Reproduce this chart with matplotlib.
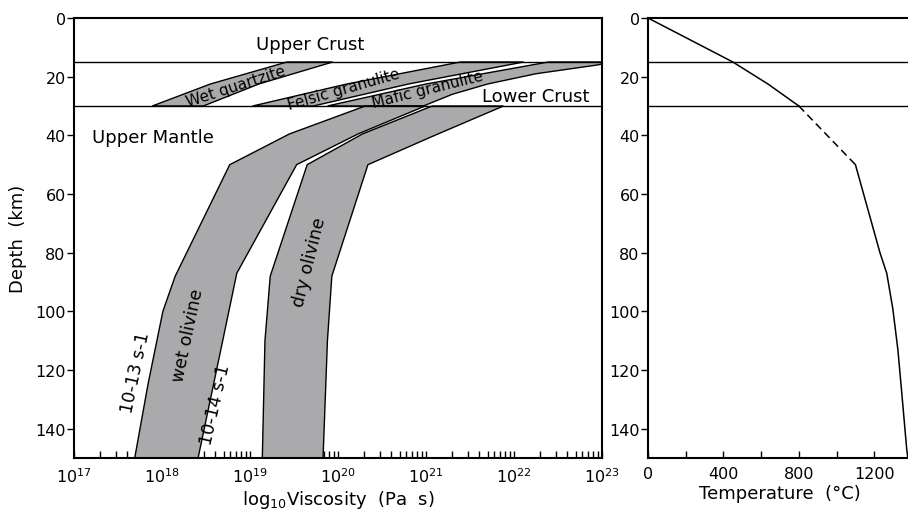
import matplotlib
matplotlib.use("Agg")
import matplotlib.pyplot as plt
from matplotlib.ticker import MultipleLocator

# layer boundaries (km)
boundary_depths = [15, 30]

# crustal flow laws: depth (km) vs log10 viscosity (Pa s), left/right edge of band
wq_depth = [30, 22.5, 15]
wq_left = [17.89, 18.55, 19.42]
wq_right = [18.47, 19.10, 19.94]

fg_depth = [30, 22.5, 15]
fg_left = [19.03, 20.10, 21.39]
fg_right = [19.72, 20.80, 22.11]

mg_depth_l = [30, 22.5, 15]
mg_left = [19.88, 21.00, 22.39]
mg_depth_r = [30, 26, 22.5, 19, 16, 15]
mg_right = [20.97, 21.30, 21.70, 22.25, 22.95, 23.10]

# mantle: wet olivine (1e-13 .. 1e-14 s-1) and dry olivine
wo_depth_l = [30, 39.5, 50, 88, 100, 125, 150]
wo_left = [20.31, 19.45, 18.77, 18.15, 18.01, 17.84, 17.69]
wo_depth_r = [30, 39.5, 50, 87, 110, 150]
wo_right = [20.99, 20.23, 19.53, 18.85, 18.69, 18.41]

do_depth_l = [30, 39.5, 50, 88, 110, 150]
do_left = [21.07, 20.28, 19.65, 19.23, 19.17, 19.14]
do_depth_r = [30, 40, 50, 88, 110, 150]
do_right = [21.88, 21.10, 20.34, 19.93, 19.88, 19.83]

# geotherm
geo_t1 = [0, 450, 636, 800]
geo_d1 = [0, 15, 22.5, 30]
geo_t2 = [800, 1100]
geo_d2 = [30, 50]
geo_t3 = [1100, 1230, 1266, 1298, 1325, 1346, 1372, 1378]
geo_d3 = [50, 80, 87, 99, 113, 128, 147, 150]

band_color = "#aaaaac"

fig = plt.figure(figsize=(9.08, 5.10), dpi=100)
ax = fig.add_axes([74 / 908, 1 - 459 / 510, 528 / 908, 440 / 510])
ax2 = fig.add_axes([648 / 908, 1 - 459 / 510, 264 / 908, 440 / 510])


def band(a, dl, xl, dr, xr):
    xs = [10 ** v for v in xl] + [10 ** v for v in xr[::-1]]
    ys = list(dl) + list(dr[::-1])
    a.fill(xs, ys, facecolor=band_color, edgecolor="black", lw=1.0, zorder=3)


ax.set_xscale("log")
band(ax, wq_depth, wq_left, wq_depth, wq_right)
band(ax, fg_depth, fg_left, fg_depth, fg_right)
band(ax, mg_depth_l, mg_left, mg_depth_r, mg_right)
band(ax, wo_depth_l, wo_left, wo_depth_r, wo_right)
band(ax, do_depth_l, do_left, do_depth_r, do_right)

for a in (ax, ax2):
    for d in boundary_depths:
        a.axhline(d, color="black", lw=1.0, zorder=4)
    a.set_ylim(150, 0)
    a.yaxis.set_major_locator(MultipleLocator(20))
    a.tick_params(axis="y", direction="out", length=5, width=1, pad=1, labelsize=11.5)
    a.tick_params(axis="x", which="both", direction="in", length=5, width=1,
                  pad=6, labelsize=11.5, top=False)
    for s in a.spines.values():
        s.set_linewidth(1.5)
        s.set_zorder(5)

ax.set_xlim(1e17, 1e23)
ax.tick_params(axis="x", which="minor", length=5)

ax2.set_xlim(0, 1400)
ax2.xaxis.set_major_locator(MultipleLocator(400))
ax2.xaxis.set_minor_locator(MultipleLocator(200))
ax2.spines["right"].set_visible(False)

ax2.plot(geo_t1, geo_d1, color="black", lw=1.1)
ax2.plot(geo_t2, geo_d2, color="black", lw=1.1, ls=(0, (5, 3)))
ax2.plot(geo_t3, geo_d3, color="black", lw=1.1)

ax.set_ylabel("Depth  (km)", fontsize=13, labelpad=6)
ax.set_xlabel("log$_{10}$Viscosity  (Pa  s)", fontsize=13, labelpad=2)
ax2.set_xlabel("Temperature  (°C)", fontsize=13, labelpad=2)

tk = dict(ha="center", va="center", rotation_mode="anchor", zorder=6)
ax.text(10 ** 19.68, 9, "Upper Crust", fontsize=13, **tk)
ax.text(10 ** 22.86, 26.5, "Lower Crust", fontsize=13, ha="right", va="center", zorder=6)
ax.text(10 ** 17.2, 40.5, "Upper Mantle", fontsize=13, ha="left", va="center", zorder=6)
ax.text(10 ** 18.84, 23.3, "Wet quartzite", fontsize=11, rotation=18, **tk)
ax.text(10 ** 20.07, 24.0, "Felsic granulite", fontsize=11, rotation=16, **tk)
ax.text(10 ** 21.02, 24.3, "Mafic granulite", fontsize=11, rotation=14, **tk)
ax.text(10 ** 18.30, 108, "wet olivine", fontsize=12.5, rotation=78, **tk)
ax.text(10 ** 19.67, 83, "dry olivine", fontsize=12.5, rotation=76, **tk)
ax.text(10 ** 17.70, 120.5, "10-13 s-1", fontsize=12.5, rotation=78, **tk)
ax.text(10 ** 18.61, 131.5, "10-14 s-1", fontsize=12.5, rotation=77, **tk)

fig.savefig("out.png", dpi=100)
